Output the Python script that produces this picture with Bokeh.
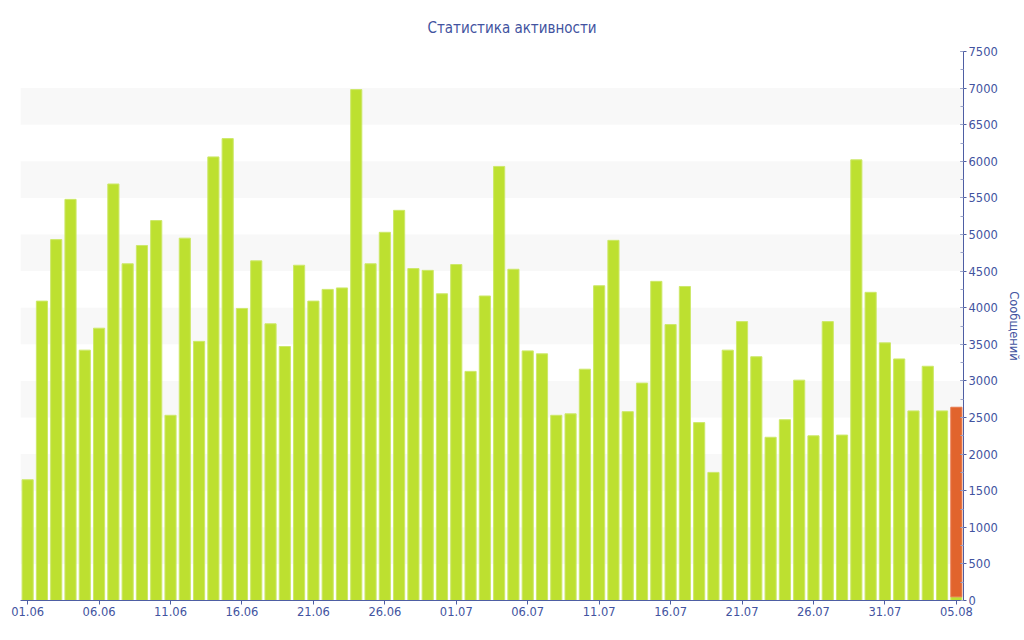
from bokeh.plotting import figure
from bokeh.models import ColumnDataSource, LinearAxis, FixedTicker, Range1d, SingleIntervalTicker
from bokeh.embed import file_html
from bokeh.resources import INLINE

# ---- data ----
dates = (["%02d.06" % d for d in range(1, 31)] +
         ["%02d.07" % d for d in range(1, 32)] +
         ["%02d.08" % d for d in range(1, 6)])

messages = [1650, 4090, 4930, 5480, 3420, 3720, 5690, 4600, 4850, 5190,
            2530, 4950, 3540, 6060, 6310, 3990, 4640, 3780, 3470, 4580,
            4090, 4250, 4270, 6980, 4600, 5030, 5330, 4535, 4510, 4190,
            4590, 3130, 4160, 5930, 4525, 3410, 3370, 2530, 2550, 3160,
            4300, 4920, 2580, 2970, 4360, 3770, 4290, 2430, 1750, 3420,
            3810, 3330, 2230, 2470, 3010, 2250, 3810, 2260, 6020, 4210,
            3520, 3300, 2590, 3200, 2590, 50]
today_extra = [0] * 65 + [2590]

tick_labels = ["01.06", "06.06", "11.06", "16.06", "21.06", "26.06", "01.07",
               "06.07", "11.07", "16.07", "21.07", "26.07", "31.07", "05.08"]

# ---- figure ----
FONT = "DejaVu Sans"
AXIS_COLOR = "#4e5ea3"
TEXT_COLOR = "#4253a0"

x = list(range(len(dates)))
src = ColumnDataSource(dict(x=x, d=dates, m=messages))
ex = [i for i in x if today_extra[i] > 0]
src2 = ColumnDataSource(dict(x=ex, bottom=[messages[i] for i in ex],
                             top=[messages[i] + today_extra[i] for i in ex]))

p = figure(frame_width=943, frame_height=549, output_backend="svg",
           toolbar_location=None, x_range=Range1d(-0.5, 65.5),
           y_range=Range1d(0, 7500), y_axis_location=None,
           min_border_left=20, min_border_top=51, min_border_bottom=30,
           min_border_right=10)
p.outline_line_color = None
p.background_fill_color = "white"

p.title.text = "Статистика активности"
p.title.align = "left"
p.title.offset = 407
p.title.text_font = "DejaVu Sans Condensed"
p.title.text_font_size = "15px"
p.title.text_font_style = "normal"
p.title.text_color = TEXT_COLOR
p.title.standoff = 30

p.vbar(x="x", top="m", width=0.78, source=src, fill_color="#bde030",
       line_color="#cde86a", line_width=1)
p.vbar(x="x", bottom="bottom", top="top", width=0.78, source=src2,
       fill_color="#e1642d", line_color="#e87a4d", line_width=1)

# grids
p.xgrid.visible = False
p.ygrid.grid_line_color = None
p.ygrid.ticker = SingleIntervalTicker(interval=500)
p.ygrid.band_fill_color = "#f5f5f5"
p.ygrid.band_fill_alpha = 0.7

# x axis
xa = p.xaxis[0]
xa.ticker = FixedTicker(ticks=[dates.index(t) for t in tick_labels])
xa.major_label_overrides = {dates.index(t): t for t in tick_labels}
xa.axis_line_color = AXIS_COLOR
xa.major_tick_line_color = AXIS_COLOR
xa.major_tick_in = 0
xa.major_tick_out = 4
xa.minor_tick_line_color = None
xa.major_label_text_font = FONT
xa.major_label_text_font_size = "11.5px"
xa.major_label_text_color = TEXT_COLOR
xa.major_label_standoff = 2

# right y axis
ya = LinearAxis(ticker=SingleIntervalTicker(interval=500, num_minor_ticks=2),
                axis_label="Сообщений")
ya.axis_line_color = AXIS_COLOR
ya.major_tick_line_color = AXIS_COLOR
ya.minor_tick_line_color = "#9aa3c8"
ya.major_tick_in = 3
ya.major_tick_out = 3
ya.minor_tick_in = 3
ya.minor_tick_out = 0
ya.major_label_text_font = FONT
ya.major_label_text_font_size = "11.5px"
ya.major_label_text_color = TEXT_COLOR
ya.major_label_standoff = 2
ya.axis_label_text_font = FONT
ya.axis_label_text_font_size = "11.5px"
ya.axis_label_text_font_style = "normal"
ya.axis_label_text_color = TEXT_COLOR
ya.axis_label_standoff = 6
p.add_layout(ya, "right")

open("out.html", "w").write(file_html(p, INLINE))
